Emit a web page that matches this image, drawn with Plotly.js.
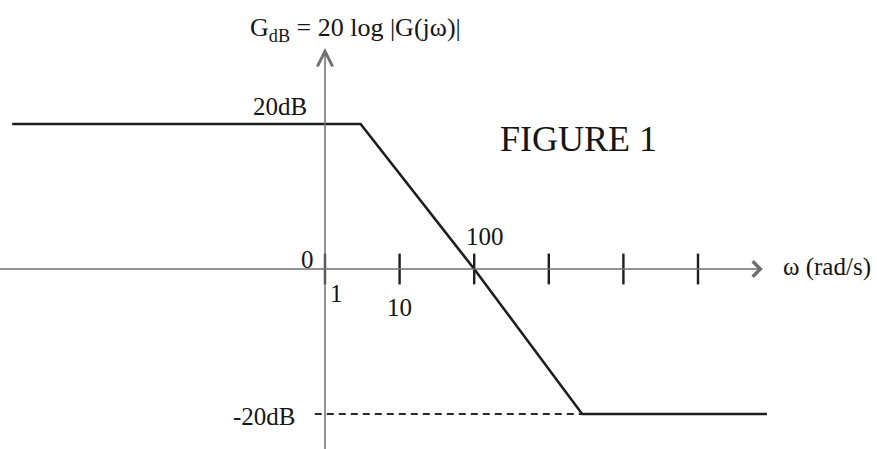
<!DOCTYPE html>
<html>
<head>
<meta charset="utf-8">
<script src="https://cdn.plot.ly/plotly-3.0.1.min.js"></script>
<style>
  html, body { margin: 0; padding: 0; background: #ffffff; }
  #chart { width: 877px; height: 449px; }
</style>
</head>
<body>
<div id="chart"></div>
<script>
// Asymptotic magnitude plot: flat at +20 dB, falling through 0 dB at 100 rad/s, flat at -20 dB
const omega = [6.4e-5, 3, 100, 2800, 8.4e5];
const gainDb = [20, 20, 0, -20, -20];

// decade tick marks along the frequency axis
const decadeTicks = [1, 10, 100, 1000, 10000, 100000];
const tickLabels = ['1', '10', '100'];

// dashed guide from the vertical axis to the lower corner
const guideOmega = [0.73, 2800];
const guideDb = [-20, -20];

// level labels on the vertical axis
const levelValues = [20, 0, -20];
const levelLabels = ['20dB', '0', '-20dB'];

const axisTipOmega = 7.4e5;   // end of the frequency axis arrow
const axisTipDb = 30.5;       // end of the gain axis arrow

const serif = 'Liberation Serif, Times New Roman, serif';
const ink = '#151515';
const axisGrey = '#707070';
const L = Math.log10;

const traces = [
  {
    x: guideOmega, y: guideDb, mode: 'lines', hoverinfo: 'skip',
    line: { color: '#2a2a2a', width: 2, dash: '7px,5px' }
  },
  {
    x: omega, y: gainDb, mode: 'lines', hoverinfo: 'skip',
    line: { color: '#1e1e1e', width: 2.6 }
  },
  {
    x: decadeTicks, y: decadeTicks.map(() => 0), mode: 'markers', hoverinfo: 'skip',
    marker: { symbol: 'line-ns', size: 22, line: { color: '#1e1e1e', width: 2.4 } }
  }
];

const annotations = [
  // frequency axis with open arrowhead
  { x: L(axisTipOmega), y: 0, xref: 'x', yref: 'y', axref: 'x', ayref: 'y',
    ax: -4.5, ay: 0, text: '', showarrow: true, arrowhead: 4, arrowsize: 2,
    arrowwidth: 1.5, arrowcolor: axisGrey },
  // gain axis with open arrowhead
  { x: 0, y: axisTipDb, xref: 'x', yref: 'y', axref: 'x', ayref: 'y',
    ax: 0, ay: -27, text: '', showarrow: true, arrowhead: 5, arrowsize: 2,
    arrowwidth: 1.5, arrowcolor: axisGrey },
  // tick labels
  { x: L(decadeTicks[0]), y: 0, text: tickLabels[0], xshift: 11, yshift: -24 },
  { x: L(decadeTicks[1]), y: 0, text: tickLabels[1], xshift: 0, yshift: -38 },
  { x: L(decadeTicks[2]), y: 0, text: tickLabels[2], xshift: 11, yshift: 33 },
  // level labels
  { x: 0, y: levelValues[0], text: levelLabels[0], xanchor: 'right', xshift: -16, yshift: 18 },
  { x: 0, y: levelValues[1], text: levelLabels[1], xanchor: 'right', xshift: -9, yshift: 10 },
  { x: 0, y: levelValues[2], text: levelLabels[2], xanchor: 'right', xshift: -27, yshift: -2 },
  // frequency axis name
  { x: L(axisTipOmega), y: 0, text: 'ω (rad/s)', xanchor: 'left', xshift: 18, yshift: 2 },
  // figure caption
  { x: 578 / 877, y: 1 - 139 / 449, xref: 'paper', yref: 'paper', text: 'FIGURE 1',
    font: { family: serif, size: 36, color: ink } }
].map(a => Object.assign({
  xref: 'x', yref: 'y', showarrow: false, xanchor: 'center', yanchor: 'middle',
  font: { family: serif, size: 25, color: ink }
}, a));

const layout = {
  width: 877, height: 449,
  margin: { l: 0, r: 0, t: 0, b: 0, pad: 0 },
  paper_bgcolor: '#ffffff', plot_bgcolor: '#ffffff',
  showlegend: false,
  title: {
    text: 'G<sub>dB</sub> = 20 log |G(jω)|',
    x: 250 / 877, xanchor: 'left', xref: 'paper',
    y: 1 - 27 / 449, yanchor: 'middle', yref: 'container',
    font: { family: serif, size: 26, color: ink }
  },
  xaxis: {
    type: 'log', range: [-325 / 74.6, 552 / 74.6],
    showgrid: false, zeroline: false, showline: false, showticklabels: false, ticks: ''
  },
  yaxis: {
    range: [-(449 - 269) / 7.25, 269 / 7.25],
    showgrid: false, zeroline: false, showline: false, showticklabels: false, ticks: ''
  },
  annotations: annotations
};

Plotly.newPlot('chart', traces, layout, { staticPlot: true, displayModeBar: false });
</script>
</body>
</html>
